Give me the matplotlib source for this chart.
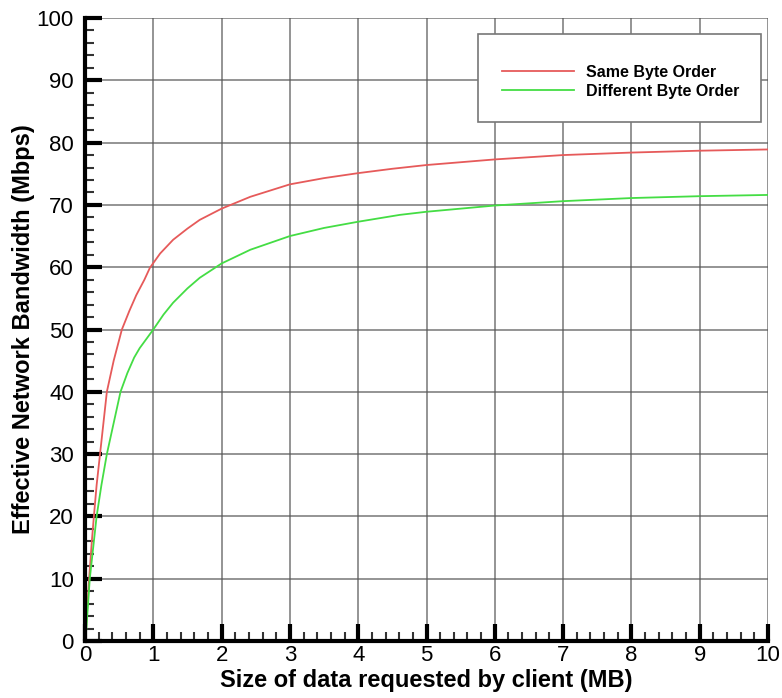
import matplotlib
matplotlib.use("Agg")
import matplotlib.pyplot as plt
from matplotlib.ticker import MultipleLocator
from matplotlib.patches import Rectangle
from matplotlib.lines import Line2D

plt.rcParams['font.family'] = ['Liberation Sans', 'DejaVu Sans']

# Data
same_x = [0.0, 0.02, 0.06, 0.1, 0.13, 0.17, 0.22, 0.27, 0.32, 0.42, 0.54, 0.65, 0.75, 0.87, 0.95,
          1.1, 1.29, 1.5, 1.68, 2.0, 2.42, 3.0, 3.5, 4.0, 4.5, 5.0, 6.0, 7.0, 8.0, 9.0, 10.0]
same_y = [0.0, 3.0, 10.0, 16.0, 20.0, 25.0, 30.0, 35.0, 40.0, 45.0, 50.0, 53.0, 55.5, 58.0, 59.9,
          62.2, 64.4, 66.2, 67.6, 69.4, 71.3, 73.3, 74.3, 75.1, 75.8, 76.4, 77.3, 78.0, 78.4, 78.7, 78.9]
diff_x = [0.0, 0.02, 0.07, 0.12, 0.17, 0.24, 0.32, 0.42, 0.52, 0.62, 0.72, 0.8, 1.0, 1.15, 1.29,
          1.5, 1.68, 2.0, 2.42, 3.0, 3.5, 4.0, 4.61, 5.0, 6.0, 7.0, 8.0, 9.0, 10.0]
diff_y = [0.0, 2.0, 10.0, 15.0, 20.0, 25.0, 30.0, 35.0, 40.0, 43.0, 45.5, 47.0, 50.0, 52.4, 54.3,
          56.6, 58.3, 60.6, 62.8, 65.0, 66.3, 67.3, 68.4, 68.9, 69.9, 70.6, 71.1, 71.4, 71.6]
series_names = ["Same Byte Order", "Different Byte Order"]
x_label = "Size of data requested by client (MB)"
y_label = "Effective Network Bandwidth (Mbps)"

RED = '#e65a5a'
GREEN = '#44dd44'

W, H = 782, 698
fig = plt.figure(figsize=(W / 100, H / 100), dpi=100)
ax = fig.add_axes([85 / W, 1 - 641 / H, (768 - 85) / W, (641 - 18) / H])

ax.plot(same_x, same_y, color=RED, lw=1.3, zorder=3)
ax.plot(diff_x, diff_y, color=GREEN, lw=1.3, zorder=3)

ax.set_xlim(0, 10)
ax.set_ylim(0, 100)
ax.xaxis.set_major_locator(MultipleLocator(1))
ax.xaxis.set_minor_locator(MultipleLocator(0.2))
ax.yaxis.set_major_locator(MultipleLocator(10))
ax.yaxis.set_minor_locator(MultipleLocator(2))

ax.grid(True, which='major', color='#555555', lw=1.1, alpha=0.8)
for s in ['top', 'right']:
    ax.spines[s].set_visible(False)
for s in ['left', 'bottom']:
    ax.spines[s].set_linewidth(3)
    ax.spines[s].set_zorder(4)

ax.tick_params(which='major', direction='in', length=12, width=3, labelsize=16, pad=8)
ax.tick_params(which='minor', direction='in', length=6.5, width=1.5, color='#333333')
ax.tick_params(axis='x', which='major', pad=3)

ax.set_xlabel(x_label, fontsize=17, fontweight='bold', labelpad=2)
ax.set_ylabel(y_label, fontsize=17, fontweight='bold', labelpad=1)

# Legend box
fig.patches.append(Rectangle((478 / W, 1 - 122 / H), (761 - 478) / W, (122 - 34) / H,
                             transform=fig.transFigure, facecolor='white',
                             edgecolor='#777777', lw=1.2, zorder=5))
handles = [Line2D([], [], color=RED, lw=1.3), Line2D([], [], color=GREEN, lw=1.3)]
leg = fig.legend(handles, series_names, loc='upper left',
                 bbox_to_anchor=(502 / W, 1 - 65 / H), frameon=False,
                 prop={'weight': 'bold', 'size': 11.5}, handlelength=4.5,
                 handletextpad=0.75, labelspacing=0.22, borderpad=0, borderaxespad=0)
leg.set_zorder(6)

fig.savefig("out.png", dpi=100)
